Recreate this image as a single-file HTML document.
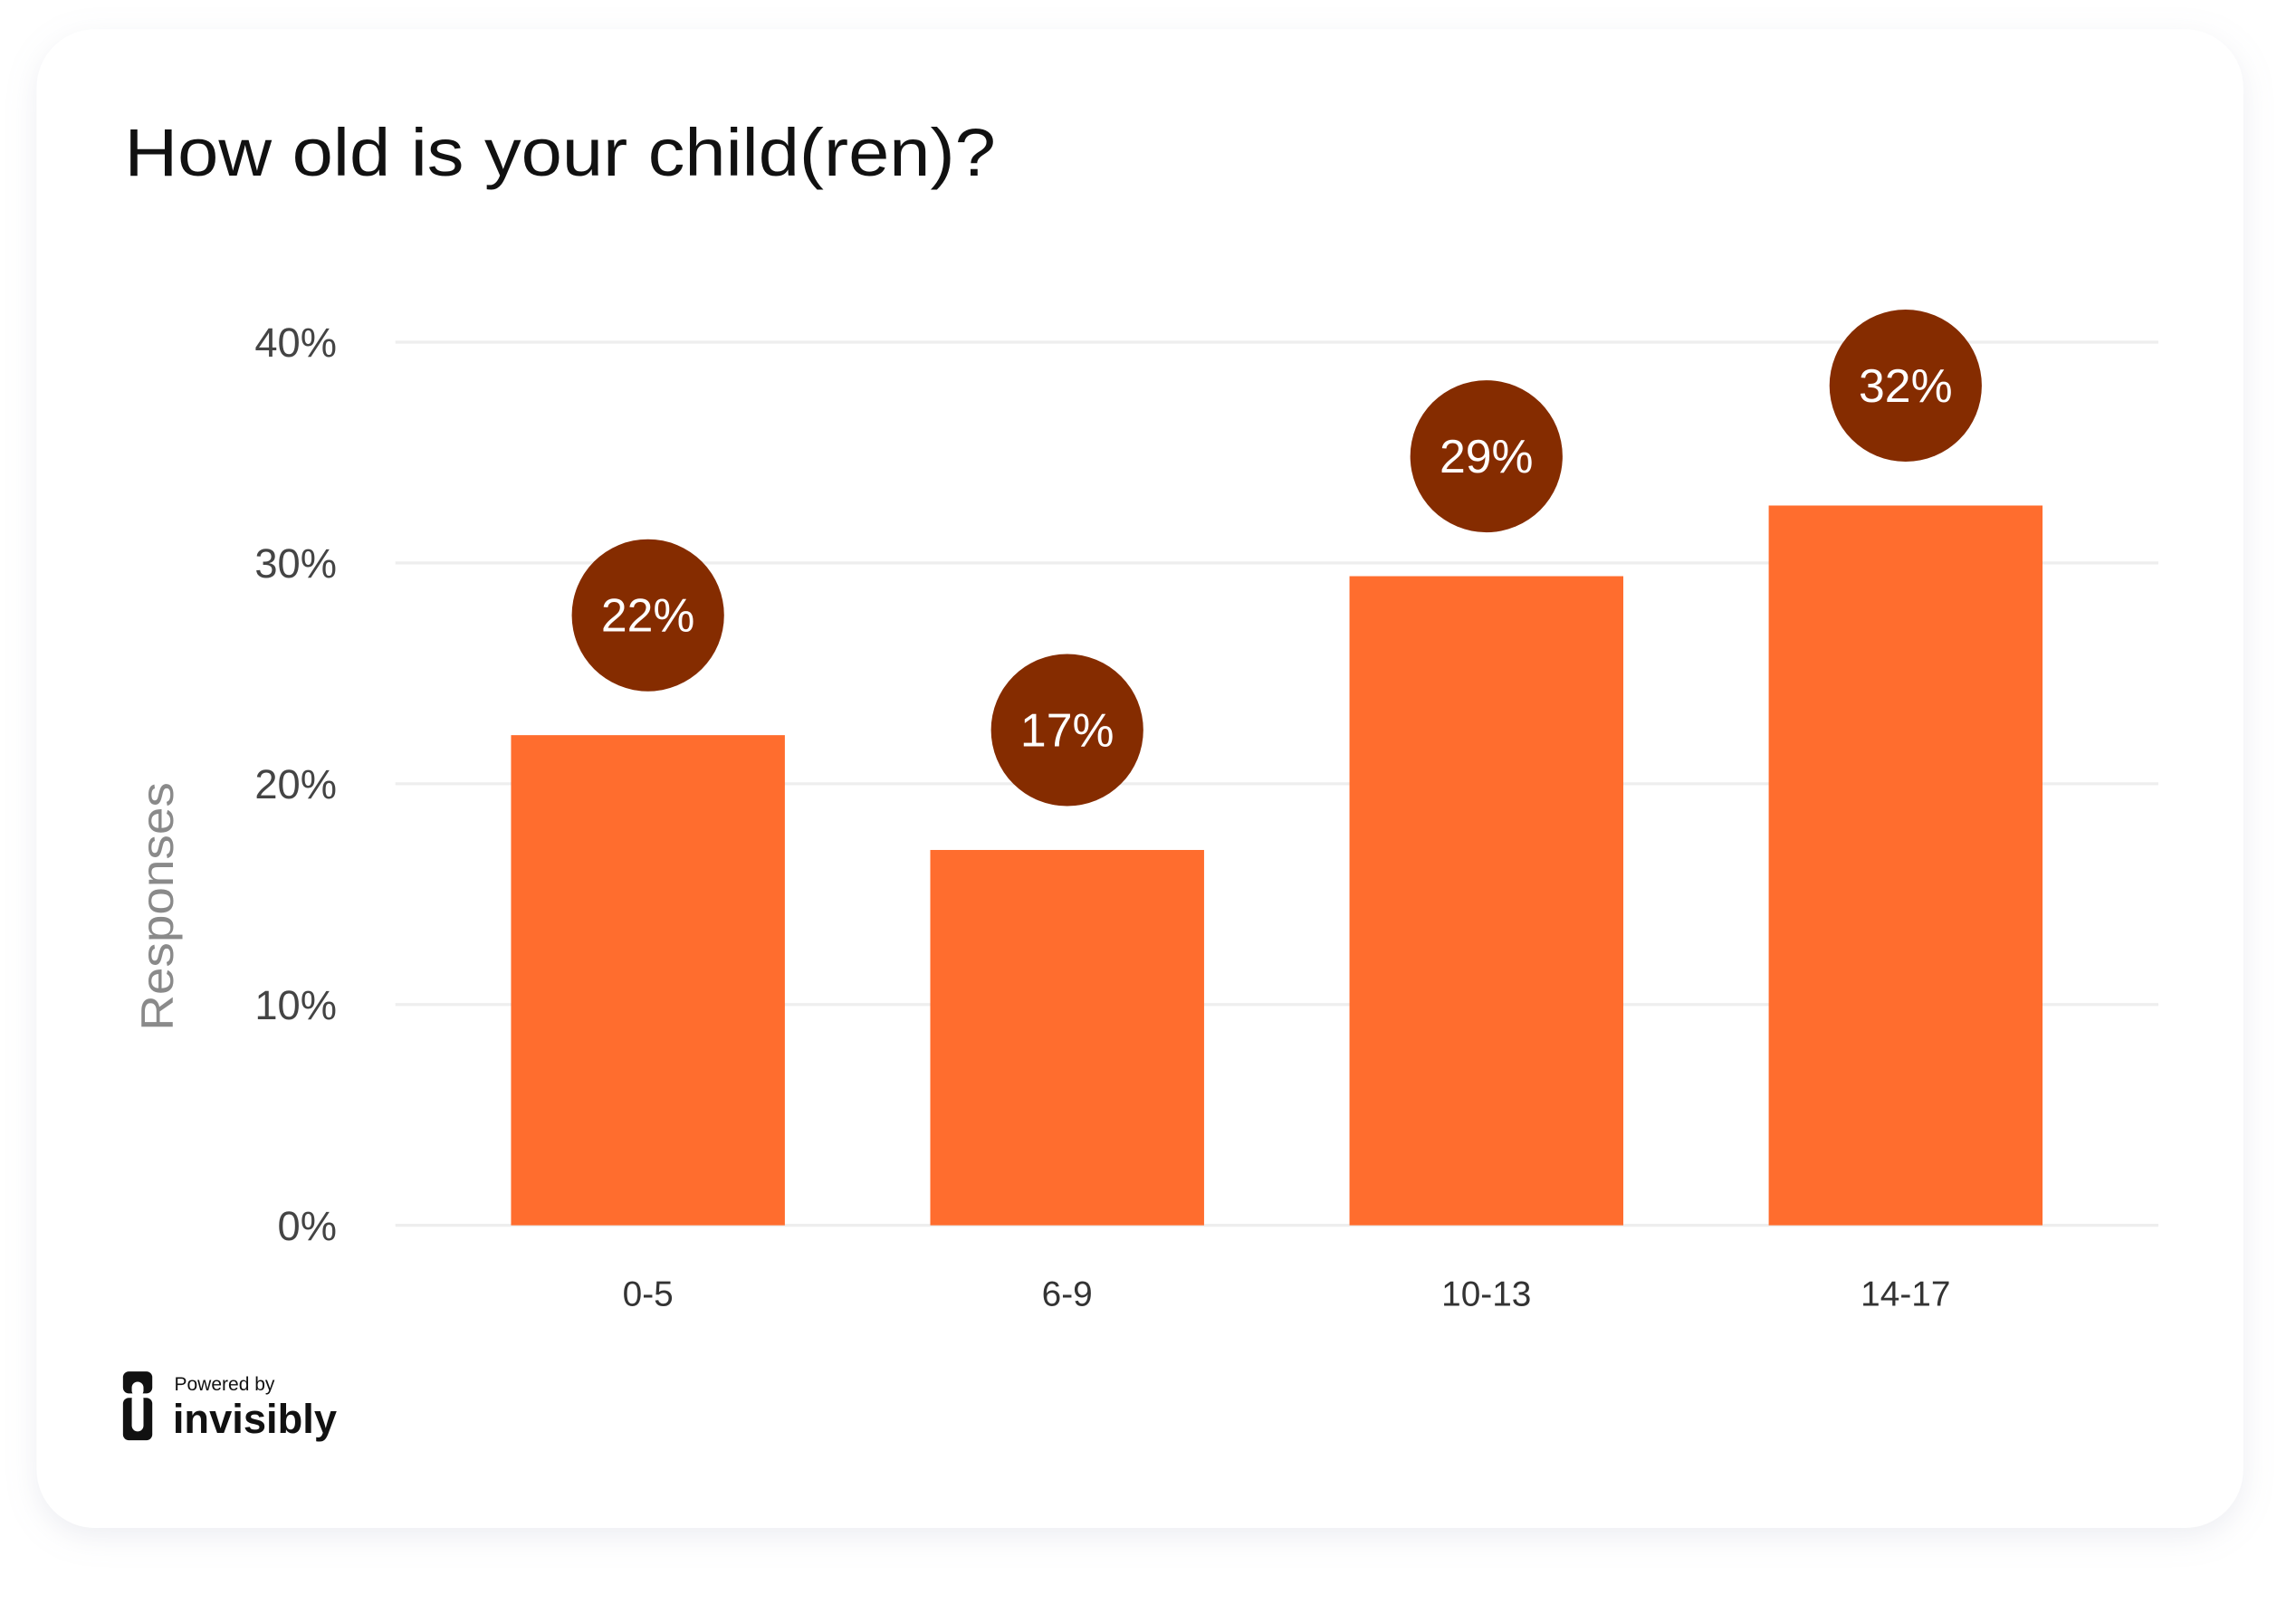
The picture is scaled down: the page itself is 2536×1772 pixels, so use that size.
<!DOCTYPE html>
<html><head><meta charset="utf-8"><style>
html,body{margin:0;padding:0;background:#fff}
svg{display:block}
text{font-family:"Liberation Sans",sans-serif}
</style></head><body>
<svg id="chart" width="2536" height="1772" viewBox="0 0 1568 1097" preserveAspectRatio="none" xmlns="http://www.w3.org/2000/svg">
<defs><filter id="sh" x="-5%" y="-5%" width="110%" height="115%"><feDropShadow dx="0" dy="6" stdDeviation="10" flood-color="#9aa0b8" flood-opacity="0.18"/></filter></defs>
<rect x="25" y="20" width="1507" height="1025" rx="40" fill="#fff" filter="url(#sh)"/>
<text x="85" y="120" font-size="46" fill="#111" textLength="595" lengthAdjust="spacingAndGlyphs">How old is your child(ren)?</text>
<text transform="translate(118,620) rotate(-90)" text-anchor="middle" font-size="31" fill="#8a8a8a" textLength="170" lengthAdjust="spacingAndGlyphs">Responses</text>
<g id="grid"></g><g id="bars"></g>
<g>
<rect x="84" y="938" width="20" height="15" rx="4" fill="#111"/><rect x="90" y="945" width="8" height="10" rx="4" fill="#fff"/>
<rect x="84" y="956" width="20" height="29" rx="4" fill="#111"/><rect x="90" y="953" width="8" height="26" rx="4" fill="#fff"/>
<text x="119" y="951" font-size="13" fill="#111">Powered by</text>
<text x="118" y="980" font-size="28" font-weight="bold" fill="#111">invisibly</text>
</g>
</svg>
<script>
const categories=["0-5","6-9","10-13","14-17"];
const values=[22.2,17.0,29.4,32.6];
const valueLabels=["22%","17%","29%","32%"];
const ticks=[0,10,20,30,40];
const tickLabels=["0%","10%","20%","30%","40%"];
const NS="http://www.w3.org/2000/svg";
const y0=838,y40=234,xL=270,xR=1474;
const yS=v=>y0-(v/40)*(y0-y40);
const barW=187;
function mk(t,a,p){const e=document.createElementNS(NS,t);for(const k in a)e.setAttribute(k,a[k]);p.appendChild(e);return e;}
const grid=document.getElementById('grid'),bars=document.getElementById('bars');
ticks.forEach((t,i)=>{
 const l=mk('line',{x1:xL,x2:xR,y1:yS(t),y2:yS(t),stroke:'#eeeeee','stroke-width':2},grid);
 
 
 const tx=mk('text',{x:230,y:yS(t)+10,'text-anchor':'end','font-size':28,fill:'#444'},grid);
 tx.textContent=tickLabels[i];
 
 
});
categories.forEach((c,i)=>{
 const cx=349+barW/2+i*286.3;
 const r=mk('rect',{x:cx-barW/2,y:yS(values[i]),width:barW,height:y0-yS(values[i]),fill:'#ff6d2e'},bars);
 
 
 const cy=yS(values[i])-82;
 const ci=mk('circle',{cx:cx,cy:cy,r:52,fill:'#852c00'},bars);
 
 
 const vt=mk('text',{x:cx,y:cy+11,'text-anchor':'middle','font-size':32,fill:'#fff'},bars);
 vt.textContent=valueLabels[i];
 
 
 const lt=mk('text',{x:cx,y:893,'text-anchor':'middle','font-size':24,fill:'#333'},bars);
 lt.textContent=c;
 
 
});
</script>
</body></html>
